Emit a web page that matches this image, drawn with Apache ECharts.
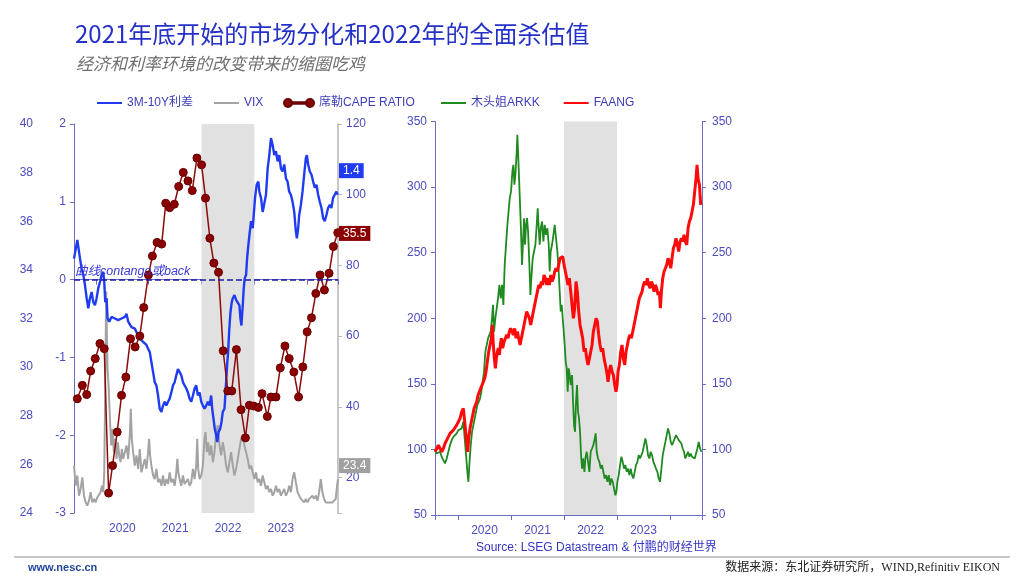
<!DOCTYPE html>
<html>
<head>
<meta charset="utf-8">
<script src="https://cdn.jsdelivr.net/npm/echarts@6/dist/echarts.min.js"></script>
<style>
html,body{margin:0;padding:0;background:#fff;}
#c{width:1024px;height:580px;}
</style>
</head>
<body>
<div id="c"></div>
<script>
// ---- data (x = decimal year) ----
const legendNames = ['3M-10Y利差', 'VIX', '席勒CAPE RATIO', '木头姐ARKK', 'FAANG'];
const yearLabels = [2020, 2021, 2022, 2023];
const shadeYears = [2022, 2023];
const lastSpread = 1.4, lastCape = 35.5, lastVix = 23.4;

const spreadPts = [[2019.585,0.27],[2019.648,0.51],[2019.699,0.27],[2019.73,0.14],[2019.762,0.06],[2019.793,-0.07],[2019.825,-0.24],[2019.856,-0.37],[2019.887,-0.24],[2019.919,-0.16],[2019.95,-0.29],[2019.982,-0.33],[2020.013,-0.24],[2020.045,-0.11],[2020.076,-0.03],[2020.108,0.06],[2020.139,0.1],[2020.158,-0.03],[2020.177,-0.29],[2020.202,-0.24],[2020.221,-0.5],[2020.252,-0.54],[2020.296,-0.48],[2020.359,-0.5],[2020.422,-0.52],[2020.485,-0.5],[2020.548,-0.48],[2020.579,-0.44],[2020.611,-0.54],[2020.642,-0.54],[2020.674,-0.61],[2020.737,-0.63],[2020.8,-0.72],[2020.831,-0.76],[2020.894,-0.8],[2020.957,-0.84],[2020.988,-0.89],[2021.02,-0.93],[2021.051,-1.06],[2021.083,-1.19],[2021.114,-1.32],[2021.145,-1.36],[2021.177,-1.49],[2021.208,-1.66],[2021.24,-1.7],[2021.271,-1.62],[2021.303,-1.57],[2021.334,-1.62],[2021.366,-1.57],[2021.397,-1.53],[2021.428,-1.45],[2021.46,-1.36],[2021.491,-1.32],[2021.523,-1.23],[2021.554,-1.15],[2021.586,-1.19],[2021.617,-1.23],[2021.649,-1.32],[2021.68,-1.36],[2021.712,-1.4],[2021.743,-1.45],[2021.774,-1.53],[2021.806,-1.57],[2021.837,-1.49],[2021.869,-1.4],[2021.9,-1.36],[2021.932,-1.49],[2021.963,-1.45],[2021.995,-1.57],[2022.026,-1.62],[2022.057,-1.66],[2022.089,-1.62],[2022.12,-1.57],[2022.152,-1.62],[2022.183,-1.49],[2022.202,-1.66],[2022.227,-1.79],[2022.252,-1.92],[2022.278,-2.0],[2022.297,-2.09],[2022.322,-1.96],[2022.353,-1.92],[2022.378,-1.83],[2022.403,-1.7],[2022.435,-1.66],[2022.454,-1.45],[2022.466,-1.32],[2022.485,-1.1],[2022.504,-0.93],[2022.523,-0.67],[2022.548,-0.42],[2022.573,-0.29],[2022.592,-0.24],[2022.624,-0.2],[2022.655,-0.26],[2022.687,-0.24],[2022.718,-0.33],[2022.737,-0.5],[2022.756,-0.59],[2022.781,-0.33],[2022.8,-0.11],[2022.819,0.02],[2022.844,0.06],[2022.863,0.27],[2022.888,0.45],[2022.907,0.57],[2022.938,0.75],[2022.97,0.66],[2022.989,0.83],[2023.014,1.05],[2023.045,1.22],[2023.077,1.26],[2023.096,1.13],[2023.127,1.05],[2023.158,0.87],[2023.19,0.87],[2023.221,1.09],[2023.253,1.43],[2023.284,1.6],[2023.316,1.82],[2023.347,1.73],[2023.379,1.6],[2023.41,1.65],[2023.441,1.52],[2023.473,1.6],[2023.504,1.43],[2023.536,1.39],[2023.567,1.48],[2023.599,1.3],[2023.63,1.26],[2023.661,1.13],[2023.693,1.09],[2023.724,1.0],[2023.756,0.87],[2023.787,0.62],[2023.806,0.53],[2023.831,0.66],[2023.85,0.83],[2023.882,0.96],[2023.913,1.13],[2023.944,1.35],[2023.976,1.56],[2023.995,1.6],[2024.02,1.48],[2024.051,1.39],[2024.083,1.35],[2024.114,1.26],[2024.146,1.18],[2024.177,1.22],[2024.209,1.09],[2024.24,1.0],[2024.272,0.92],[2024.303,0.79],[2024.334,0.75],[2024.366,0.83],[2024.397,0.92],[2024.429,0.96],[2024.46,0.92],[2024.492,1.05],[2024.523,1.09],[2024.555,1.13],[2024.58,1.09]];

const vixPts = [[2019.585,23.4],[2019.617,17.7],[2019.648,20.6],[2019.68,14.9],[2019.711,16.8],[2019.743,20.1],[2019.774,14.9],[2019.806,13.0],[2019.837,12.1],[2019.869,13.5],[2019.9,15.9],[2019.931,13.0],[2019.963,14.0],[2019.994,13.0],[2020.026,14.4],[2020.057,14.0],[2020.089,15.9],[2020.114,17.7],[2020.139,15.9],[2020.158,21.5],[2020.17,36.7],[2020.183,55.5],[2020.196,72.6],[2020.208,60.3],[2020.221,50.8],[2020.24,46.1],[2020.265,36.7],[2020.29,29.1],[2020.315,33.8],[2020.34,27.2],[2020.365,31.0],[2020.391,25.3],[2020.416,30.0],[2020.441,26.3],[2020.466,24.4],[2020.491,28.1],[2020.516,25.3],[2020.548,27.2],[2020.579,29.1],[2020.611,25.3],[2020.642,31.9],[2020.661,39.5],[2020.68,31.0],[2020.705,27.2],[2020.737,23.4],[2020.768,26.3],[2020.8,22.5],[2020.831,28.1],[2020.862,21.5],[2020.894,23.4],[2020.925,25.3],[2020.957,22.5],[2020.988,27.2],[2021.007,31.0],[2021.026,26.3],[2021.051,23.4],[2021.083,20.6],[2021.114,19.6],[2021.145,22.5],[2021.177,18.7],[2021.208,19.6],[2021.24,17.7],[2021.271,20.6],[2021.303,17.7],[2021.334,19.6],[2021.366,18.2],[2021.397,21.5],[2021.428,18.7],[2021.46,19.6],[2021.491,17.7],[2021.523,21.5],[2021.542,25.3],[2021.561,21.5],[2021.586,19.6],[2021.617,17.7],[2021.649,20.6],[2021.68,18.2],[2021.712,17.7],[2021.743,19.6],[2021.774,17.7],[2021.806,18.7],[2021.837,22.5],[2021.869,19.6],[2021.9,23.4],[2021.919,31.0],[2021.938,22.5],[2021.963,19.6],[2021.995,20.6],[2022.026,23.4],[2022.057,31.0],[2022.076,32.9],[2022.101,27.2],[2022.127,30.0],[2022.152,26.3],[2022.183,29.1],[2022.215,24.4],[2022.246,27.2],[2022.278,32.9],[2022.309,34.8],[2022.341,29.1],[2022.372,26.3],[2022.403,30.0],[2022.435,27.2],[2022.466,23.4],[2022.498,21.5],[2022.529,24.4],[2022.561,27.2],[2022.592,23.4],[2022.624,20.6],[2022.655,22.5],[2022.687,25.3],[2022.718,28.1],[2022.749,31.0],[2022.781,31.9],[2022.812,29.1],[2022.844,27.2],[2022.875,25.3],[2022.907,22.5],[2022.938,23.4],[2022.97,21.5],[2023.001,19.6],[2023.032,21.5],[2023.064,18.7],[2023.095,19.6],[2023.127,17.7],[2023.158,20.6],[2023.19,18.7],[2023.221,16.8],[2023.253,17.7],[2023.284,15.9],[2023.315,16.8],[2023.347,14.9],[2023.378,15.9],[2023.41,17.7],[2023.441,15.9],[2023.473,16.8],[2023.504,14.9],[2023.536,15.9],[2023.567,16.8],[2023.599,14.9],[2023.63,15.9],[2023.661,17.7],[2023.693,15.9],[2023.724,19.6],[2023.756,21.5],[2023.787,18.7],[2023.819,15.9],[2023.85,14.9],[2023.882,14.0],[2023.913,13.5],[2023.945,13.0],[2023.976,14.0],[2024.007,13.0],[2024.039,14.0],[2024.07,13.5],[2024.102,14.9],[2024.133,14.0],[2024.165,14.9],[2024.196,13.5],[2024.228,15.9],[2024.259,19.6],[2024.29,15.9],[2024.322,14.0],[2024.353,13.0],[2024.385,12.5],[2024.416,13.0],[2024.448,12.5],[2024.479,13.0],[2024.51,12.5],[2024.542,14.0],[2024.567,17.7],[2024.585,19.6]];

const capePts = [[2019.648,28.70],[2019.743,29.25],[2019.825,28.87],[2019.90,29.84],[2019.988,30.35],[2020.076,30.97],[2020.158,30.76],[2020.24,24.82],[2020.315,25.95],[2020.403,27.33],[2020.485,28.84],[2020.567,29.59],[2020.655,31.17],[2020.743,30.83],[2020.831,31.28],[2020.906,32.45],[2020.994,33.79],[2021.07,34.57],[2021.158,35.13],[2021.246,35.06],[2021.322,36.74],[2021.397,36.56],[2021.485,36.70],[2021.567,37.43],[2021.655,38.01],[2021.743,37.66],[2021.825,37.26],[2021.913,38.60],[2022.001,38.32],[2022.076,36.95],[2022.158,35.30],[2022.234,34.28],[2022.322,33.90],[2022.41,30.67],[2022.498,29.02],[2022.573,29.02],[2022.661,30.72],[2022.749,28.25],[2022.831,27.09],[2022.907,28.43],[2022.988,28.40],[2023.077,28.34],[2023.146,28.91],[2023.246,27.97],[2023.315,28.77],[2023.41,28.77],[2023.492,29.97],[2023.58,30.87],[2023.661,30.35],[2023.749,29.80],[2023.838,28.77],[2023.919,30.01],[2024.001,31.45],[2024.083,32.03],[2024.165,33.03],[2024.246,33.79],[2024.328,33.17],[2024.416,33.86],[2024.498,34.96],[2024.58,35.53]];

const arkkPts = [[2019.567,99.4],[2019.598,96.9],[2019.63,95.6],[2019.661,98.2],[2019.692,94.4],[2019.724,95.6],[2019.755,89.3],[2019.787,93.1],[2019.818,98.2],[2019.85,103.3],[2019.881,107.1],[2019.913,109.6],[2019.944,110.9],[2019.975,112.2],[2020.007,114.7],[2020.038,114.7],[2020.07,116.0],[2020.101,121.1],[2020.126,108.4],[2020.152,95.6],[2020.177,82.9],[2020.196,75.3],[2020.214,88.0],[2020.24,103.3],[2020.265,113.4],[2020.29,118.5],[2020.315,123.6],[2020.34,128.7],[2020.365,133.8],[2020.391,136.3],[2020.416,138.9],[2020.441,144.0],[2020.466,151.6],[2020.491,159.3],[2020.516,174.5],[2020.542,179.6],[2020.567,184.7],[2020.592,187.3],[2020.617,189.8],[2020.642,200.0],[2020.661,210.2],[2020.68,189.8],[2020.705,200.0],[2020.73,207.6],[2020.755,215.2],[2020.781,225.4],[2020.806,215.2],[2020.831,225.4],[2020.856,210.2],[2020.881,240.7],[2020.906,255.9],[2020.932,271.2],[2020.957,271.2],[2020.976,291.6],[2021.001,296.7],[2021.026,311.9],[2021.045,317.0],[2021.064,301.8],[2021.083,309.4],[2021.108,327.2],[2021.12,339.9],[2021.133,327.2],[2021.152,306.9],[2021.171,286.5],[2021.189,266.1],[2021.208,240.7],[2021.227,258.5],[2021.246,276.3],[2021.265,256.0],[2021.284,271.2],[2021.303,276.3],[2021.322,266.1],[2021.347,240.7],[2021.366,217.8],[2021.384,230.5],[2021.41,245.8],[2021.435,250.9],[2021.46,256.0],[2021.485,271.2],[2021.504,283.9],[2021.523,268.6],[2021.542,256.0],[2021.561,268.6],[2021.586,273.8],[2021.611,258.5],[2021.636,271.2],[2021.661,263.6],[2021.686,268.6],[2021.712,256.0],[2021.73,235.6],[2021.749,250.9],[2021.774,256.0],[2021.8,263.6],[2021.825,271.2],[2021.85,261.0],[2021.875,250.9],[2021.9,235.6],[2021.919,220.3],[2021.938,205.1],[2021.957,210.2],[2021.976,200.0],[2021.995,189.8],[2022.013,179.6],[2022.032,166.9],[2022.051,161.8],[2022.07,144.0],[2022.089,161.8],[2022.108,156.7],[2022.127,149.1],[2022.152,156.7],[2022.171,136.3],[2022.19,118.5],[2022.208,113.4],[2022.227,136.3],[2022.246,149.1],[2022.265,128.7],[2022.284,123.6],[2022.303,113.4],[2022.322,95.6],[2022.341,85.4],[2022.359,93.1],[2022.385,82.9],[2022.403,93.1],[2022.429,98.2],[2022.454,90.5],[2022.479,82.9],[2022.504,98.2],[2022.529,100.7],[2022.554,103.3],[2022.58,108.4],[2022.598,112.2],[2022.617,98.2],[2022.642,93.1],[2022.668,90.5],[2022.693,85.4],[2022.718,88.0],[2022.743,82.9],[2022.768,77.8],[2022.793,80.4],[2022.819,75.3],[2022.844,80.4],[2022.869,72.7],[2022.894,77.8],[2022.919,75.3],[2022.944,70.2],[2022.97,65.1],[2022.988,67.6],[2023.007,75.3],[2023.032,80.4],[2023.058,88.0],[2023.083,94.4],[2023.108,90.5],[2023.133,85.4],[2023.158,88.0],[2023.183,82.9],[2023.209,85.4],[2023.234,80.4],[2023.259,85.4],[2023.284,80.4],[2023.309,77.8],[2023.334,82.9],[2023.359,88.0],[2023.385,90.5],[2023.41,95.6],[2023.435,93.1],[2023.46,95.6],[2023.485,98.2],[2023.51,103.3],[2023.536,108.4],[2023.561,103.3],[2023.586,95.6],[2023.611,93.1],[2023.636,98.2],[2023.661,95.6],[2023.687,90.5],[2023.712,88.0],[2023.737,85.4],[2023.762,82.9],[2023.787,77.8],[2023.812,75.3],[2023.838,85.4],[2023.863,95.6],[2023.888,100.7],[2023.913,105.7],[2023.938,110.9],[2023.963,116.0],[2023.988,112.2],[2024.014,105.7],[2024.039,103.3],[2024.064,105.7],[2024.089,108.4],[2024.114,110.9],[2024.139,109.6],[2024.165,107.1],[2024.19,108.4],[2024.215,104.5],[2024.24,100.7],[2024.265,98.2],[2024.29,93.1],[2024.316,95.6],[2024.341,98.2],[2024.366,94.4],[2024.391,96.9],[2024.416,94.4],[2024.441,95.6],[2024.467,93.1],[2024.492,96.9],[2024.517,100.7],[2024.542,105.7],[2024.567,100.7],[2024.592,98.2]];

const faangPts = [[2019.567,98.2],[2019.598,100.7],[2019.63,103.3],[2019.661,102.0],[2019.692,98.2],[2019.724,100.7],[2019.755,104.5],[2019.787,107.1],[2019.818,109.6],[2019.85,112.2],[2019.881,113.4],[2019.913,114.7],[2019.944,116.0],[2019.975,118.5],[2020.007,121.1],[2020.038,123.6],[2020.07,128.7],[2020.101,131.2],[2020.12,123.6],[2020.145,113.4],[2020.164,105.7],[2020.183,98.2],[2020.202,108.4],[2020.227,116.0],[2020.252,121.1],[2020.277,126.1],[2020.303,131.2],[2020.328,133.8],[2020.353,136.3],[2020.378,141.4],[2020.403,144.0],[2020.428,146.5],[2020.454,149.1],[2020.479,151.6],[2020.504,154.2],[2020.529,159.3],[2020.554,166.9],[2020.579,174.5],[2020.604,179.6],[2020.63,184.7],[2020.648,194.9],[2020.667,179.6],[2020.686,169.4],[2020.705,161.8],[2020.724,169.4],[2020.743,174.5],[2020.762,177.1],[2020.781,172.0],[2020.799,179.6],[2020.818,184.7],[2020.843,177.1],[2020.869,182.2],[2020.894,184.7],[2020.919,187.3],[2020.944,184.7],[2020.969,189.8],[2020.994,192.3],[2021.02,189.8],[2021.045,187.3],[2021.07,192.3],[2021.095,184.7],[2021.12,189.8],[2021.145,189.8],[2021.171,179.6],[2021.196,184.7],[2021.221,189.8],[2021.246,194.9],[2021.271,200.0],[2021.296,205.1],[2021.322,202.5],[2021.347,200.0],[2021.372,194.9],[2021.397,200.0],[2021.422,205.1],[2021.447,210.2],[2021.472,215.2],[2021.498,220.3],[2021.523,225.4],[2021.548,222.9],[2021.573,228.0],[2021.598,225.4],[2021.623,233.0],[2021.649,230.5],[2021.674,225.4],[2021.699,230.5],[2021.724,225.4],[2021.749,233.0],[2021.774,228.0],[2021.8,230.5],[2021.825,235.6],[2021.85,238.1],[2021.875,235.6],[2021.9,240.7],[2021.925,245.8],[2021.951,245.8],[2021.976,247.0],[2022.001,240.7],[2022.026,235.6],[2022.051,230.5],[2022.076,225.4],[2022.101,230.5],[2022.127,220.3],[2022.152,210.2],[2022.177,200.0],[2022.202,207.6],[2022.227,228.0],[2022.252,220.3],[2022.278,205.1],[2022.303,194.9],[2022.328,189.8],[2022.353,184.7],[2022.378,174.5],[2022.403,177.1],[2022.429,169.4],[2022.454,164.4],[2022.479,169.4],[2022.504,174.5],[2022.529,179.6],[2022.554,189.8],[2022.58,194.9],[2022.605,200.0],[2022.63,197.4],[2022.655,187.3],[2022.68,179.6],[2022.705,174.5],[2022.73,177.1],[2022.756,169.4],[2022.781,164.4],[2022.806,159.3],[2022.831,151.6],[2022.856,159.3],[2022.881,164.4],[2022.907,159.3],[2022.932,156.7],[2022.957,149.1],[2022.982,144.0],[2023.001,149.1],[2023.02,159.3],[2023.045,164.4],[2023.07,174.5],[2023.095,179.6],[2023.12,169.4],[2023.146,164.4],[2023.171,174.5],[2023.196,179.6],[2023.221,184.7],[2023.246,187.3],[2023.271,184.7],[2023.297,189.8],[2023.322,194.9],[2023.347,200.0],[2023.372,205.1],[2023.397,210.2],[2023.422,215.2],[2023.448,217.8],[2023.473,220.3],[2023.498,225.4],[2023.523,228.0],[2023.548,225.4],[2023.573,230.5],[2023.599,225.4],[2023.624,222.9],[2023.649,228.0],[2023.674,225.4],[2023.699,220.3],[2023.724,225.4],[2023.749,222.9],[2023.775,217.8],[2023.8,220.3],[2023.819,207.6],[2023.838,220.3],[2023.863,230.5],[2023.888,235.6],[2023.913,238.1],[2023.938,240.7],[2023.963,245.8],[2023.988,243.2],[2024.014,238.1],[2024.039,245.8],[2024.064,253.4],[2024.089,256.0],[2024.114,261.0],[2024.139,256.0],[2024.165,250.9],[2024.19,258.5],[2024.215,261.0],[2024.24,258.5],[2024.265,263.6],[2024.29,258.5],[2024.316,256.0],[2024.341,268.6],[2024.366,273.8],[2024.391,276.3],[2024.416,281.4],[2024.441,286.5],[2024.467,296.7],[2024.492,306.9],[2024.51,317.0],[2024.529,306.9],[2024.555,301.8],[2024.58,286.5]];

// ---- chart ----
const FONT = "'Liberation Sans', 'Noto Sans CJK SC', sans-serif";
const AX = '#4b4bbf';
const AXLINE = '#6c6cc4';
const chart = echarts.init(document.getElementById('c'), null, {renderer: 'canvas'});

function yearAxis(grid, min, max) {
  return {
    type: 'value', gridIndex: grid, min: min, max: max, splitNumber: 5, minInterval: 1,
    axisLine: {show: true, lineStyle: {color: AXLINE, width: 1}},
    axisTick: {show: true, length: 5, lineStyle: {color: AXLINE}},
    splitLine: {show: false},
    axisLabel: {
      color: AX, fontSize: 12, fontFamily: FONT, margin: 10,
      padding: [0, 0, 0, 53],
      formatter: v => (yearLabels.indexOf(Math.round(v * 1000) / 1000) >= 0 ? String(v) : '')
    }
  };
}
function valAxis(extra) {
  return Object.assign({
    type: 'value', splitLine: {show: false},
    axisLine: {show: true, lineStyle: {color: AXLINE}},
    axisTick: {show: true, length: 4, lineStyle: {color: AXLINE}},
    axisLabel: {color: AX, fontSize: 12, fontFamily: FONT, margin: 8}
  }, extra);
}
function endMark(x, y, bg) {
  return {
    symbol: 'circle', symbolSize: 0, silent: true,
    label: {show: true, position: 'right', distance: 1, color: '#fff', backgroundColor: bg,
      padding: [2, 4, 1, 4], fontSize: 12, fontFamily: FONT, formatter: p => String(p.value)},
    data: [{coord: [x, y], value: y}]
  };
}
const capeIcon = 'path://M0,4A4,4,0,1,0,8,4A4,4,0,1,0,0,4Z M22,4A4,4,0,1,0,30,4A4,4,0,1,0,22,4Z M8,3.25L22,3.25L22,4.75L8,4.75Z';
const legendText = {color: '#3d3db8', fontSize: 12, fontFamily: FONT};
function lineLegend(names, left, gap) {
  return {data: names.map(n => ({name: n, icon: 'rect'})), left: left, top: 97, padding: 0,
    itemWidth: 25, itemHeight: 2, itemGap: gap, textStyle: legendText};
}

const option = {
  animation: false,
  backgroundColor: '#fff',
  textStyle: {fontFamily: FONT},
  title: [
    {text: '2021年底开始的市场分化和2022年的全面杀估值', left: 70, top: 17,
      textStyle: {color: '#2430c8', fontSize: 24, fontWeight: 'normal', fontFamily: "'Noto Sans CJK SC', sans-serif"}},
    {text: '经济和利率环境的改变带来的缩圈吃鸡', left: 71, top: 50,
      textStyle: {color: '#6e6e6e', fontSize: 17, fontStyle: 'italic', fontWeight: 'normal', fontFamily: "'Noto Sans CJK SC', sans-serif"}}
  ],
  legend: [
    lineLegend([legendNames[0], legendNames[1]], 97, 21),
    {data: [{name: legendNames[2], icon: capeIcon}], left: 283, top: 97, padding: 0,
      itemWidth: 30, itemHeight: 8, textStyle: legendText},
    lineLegend([legendNames[3], legendNames[4]], 441, 24)
  ],
  grid: [
    {left: 74, right: 686, top: 124, bottom: 67},
    {left: 435, right: 322, top: 121.5, bottom: 65}
  ],
  xAxis: [yearAxis(0, 2019.585, 2024.585), yearAxis(1, 2019.566, 2024.604)],
  yAxis: [
    valAxis({gridIndex: 0, position: 'left', min: -3, max: 2, interval: 1}),
    valAxis({gridIndex: 0, position: 'left', offset: 33, min: 24, max: 40, interval: 2,
      axisLine: {show: false}, axisTick: {show: false}}),
    valAxis({gridIndex: 0, position: 'right', min: 10, max: 120, splitNumber: 5,
      axisLine: {show: true, lineStyle: {color: '#c8c8c8', width: 2}},
      axisTick: {show: true, length: 4, lineStyle: {color: '#b8b8b8'}},
      axisLabel: {color: AX, fontSize: 12, fontFamily: FONT, margin: 8,
        formatter: v => (v % 20 === 0 ? String(v) : '')}}),
    valAxis({gridIndex: 1, position: 'left', min: 50, max: 350, interval: 50}),
    valAxis({gridIndex: 1, position: 'right', min: 50, max: 350, interval: 50,
      axisLabel: {color: AX, fontSize: 12, fontFamily: FONT, margin: 10}})
  ],
  series: [
    {type: 'line', name: 'shade1', xAxisIndex: 0, yAxisIndex: 0, data: [], z: 1, silent: true,
      markArea: {silent: true, itemStyle: {color: '#e1e1e1'},
        data: [[{xAxis: shadeYears[0]}, {xAxis: shadeYears[1]}]]}},
    {type: 'line', name: 'shade2', xAxisIndex: 1, yAxisIndex: 3, data: [], z: 1, silent: true,
      markArea: {silent: true, itemStyle: {color: '#e1e1e1'},
        data: [[{xAxis: shadeYears[0]}, {xAxis: shadeYears[1]}]]}},
    {type: 'line', name: 'VIX', xAxisIndex: 0, yAxisIndex: 2, data: vixPts, symbol: 'none', z: 2,
      lineStyle: {color: '#a3a3a3', width: 2}, itemStyle: {color: '#a3a3a3'},
      markPoint: endMark(2024.585, lastVix, '#a0a0a0')},
    {type: 'line', name: '3M-10Y利差', xAxisIndex: 0, yAxisIndex: 0, data: spreadPts, symbol: 'none', z: 3,
      lineStyle: {color: '#1f3cf2', width: 2.4}, itemStyle: {color: '#1f3cf2'},
      markLine: {silent: true, symbol: ['none', 'none'], label: {show: false},
        lineStyle: {color: '#1a1aa8', type: 'dashed', width: 1.5}, data: [{yAxis: 0}]},
      markPoint: endMark(2024.585, lastSpread, '#1f3cf2')},
    {type: 'line', name: '席勒CAPE RATIO', xAxisIndex: 0, yAxisIndex: 1, data: capePts, z: 4,
      symbol: 'circle', symbolSize: 8, showSymbol: true,
      lineStyle: {color: '#8b0a0a', width: 1.5}, itemStyle: {color: '#8b0000', borderColor: '#6a0000', borderWidth: 1},
      markPoint: endMark(2024.585, lastCape, '#8b0000')},
    {type: 'line', name: '木头姐ARKK', xAxisIndex: 1, yAxisIndex: 3, data: arkkPts, symbol: 'none', z: 2,
      lineStyle: {color: '#1f8a1f', width: 1.8}, itemStyle: {color: '#1f8a1f'}},
    {type: 'line', name: 'FAANG', xAxisIndex: 1, yAxisIndex: 4, data: faangPts, symbol: 'none', z: 3,
      lineStyle: {color: '#ff0a0a', width: 3}, itemStyle: {color: '#ff0a0a'}}
  ],
  graphic: [
    {type: 'text', left: 75, top: 265, z: 10,
      style: {text: '曲线contango或back', fill: '#3a3ad8', font: "italic 12.5px 'Liberation Sans', 'Noto Sans CJK SC', sans-serif"}},
    {type: 'text', left: 476, top: 542,
      style: {text: 'Source: LSEG Datastream & 付鹏的财经世界', fill: '#3434c4', font: "12px 'Liberation Sans', 'Noto Sans CJK SC', sans-serif"}},
    {type: 'line', shape: {x1: 14, y1: 557, x2: 1010, y2: 557}, style: {stroke: '#b4b4b4', lineWidth: 1.5}},
    {type: 'text', left: 28, top: 562,
      style: {text: 'www.nesc.cn', fill: '#24479a', font: "bold 11px 'Liberation Sans', sans-serif"}},
    {type: 'text', right: 24, top: 562,
      style: {text: '数据来源：东北证券研究所，WIND,Refinitiv EIKON', fill: '#222', font: "12px 'Liberation Serif', 'Noto Sans CJK SC', serif"}}
  ]
};
chart.setOption(option);
</script>
</body>
</html>
